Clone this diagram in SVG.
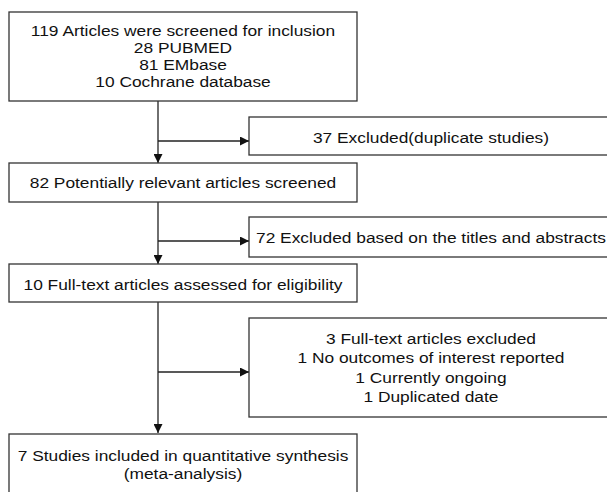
<svg xmlns="http://www.w3.org/2000/svg" width="607" height="492" viewBox="0 0 607 492">
<style>
.box{fill:#fff;stroke:#333;stroke-width:1.3}
.t{font-family:"Liberation Sans",Arial,sans-serif;font-size:15.5px;fill:#111;text-anchor:middle}
.c{stroke:#222;stroke-width:1.3;fill:none}
</style>
<defs>
<marker id="ah" viewBox="0 0 10 10" refX="10" refY="5" markerWidth="9" markerHeight="9" markerUnits="userSpaceOnUse" orient="auto">
<path d="M0,0 L10,5 L0,10 z" fill="#111"/>
</marker>
</defs>
<rect width="607" height="492" fill="#fff"/>
<g id="connectors">
<path class="c" d="M158,101 V163" marker-end="url(#ah)"/>
<path class="c" d="M158,141 H249" marker-end="url(#ah)"/>
<path class="c" d="M158,202 V264" marker-end="url(#ah)"/>
<path class="c" d="M158,241 H249" marker-end="url(#ah)"/>
<path class="c" d="M158,302 V433" marker-end="url(#ah)"/>
<path class="c" d="M158,372 H249" marker-end="url(#ah)"/>
</g>
<g id="n1">
<rect class="box" x="9" y="12" width="348" height="89"/>
<g transform="scale(1.12,1)">
<text class="t" x="163.4" y="36">119 Articles were screened for inclusion</text>
<text class="t" x="163.4" y="53">28 PUBMED</text>
<text class="t" x="163.4" y="70">81 EMbase</text>
<text class="t" x="163.4" y="87">10 Cochrane database</text>
</g>
</g>
<g id="n2">
<rect class="box" x="249" y="117" width="370" height="38"/>
<text class="t" transform="scale(1.12,1)" x="384.8" y="143">37 Excluded(duplicate studies)</text>
</g>
<g id="n3">
<rect class="box" x="9" y="163" width="348" height="39"/>
<text class="t" transform="scale(1.12,1)" x="163.4" y="188">82 Potentially relevant articles screened</text>
</g>
<g id="n4">
<rect class="box" x="249" y="217" width="370" height="40"/>
<text class="t" transform="scale(1.12,1)" x="384.8" y="243">72 Excluded based on the titles and abstracts</text>
</g>
<g id="n5">
<rect class="box" x="9" y="264" width="348" height="38"/>
<text class="t" transform="scale(1.12,1)" x="163.4" y="290">10 Full-text articles assessed for eligibility</text>
</g>
<g id="n6">
<rect class="box" x="249" y="318" width="370" height="99"/>
<g transform="scale(1.12,1)">
<text class="t" x="384.8" y="344">3 Full-text articles excluded</text>
<text class="t" x="384.8" y="363.5">1 No outcomes of interest reported</text>
<text class="t" x="384.8" y="383">1 Currently ongoing</text>
<text class="t" x="384.8" y="402.5">1 Duplicated date</text>
</g>
</g>
<g id="n7">
<rect class="box" x="9" y="434" width="348" height="70"/>
<g transform="scale(1.12,1)">
<text class="t" x="163.4" y="461">7 Studies included in quantitative synthesis</text>
<text class="t" x="163.4" y="479">(meta-analysis)</text>
</g>
</g>
</svg>
